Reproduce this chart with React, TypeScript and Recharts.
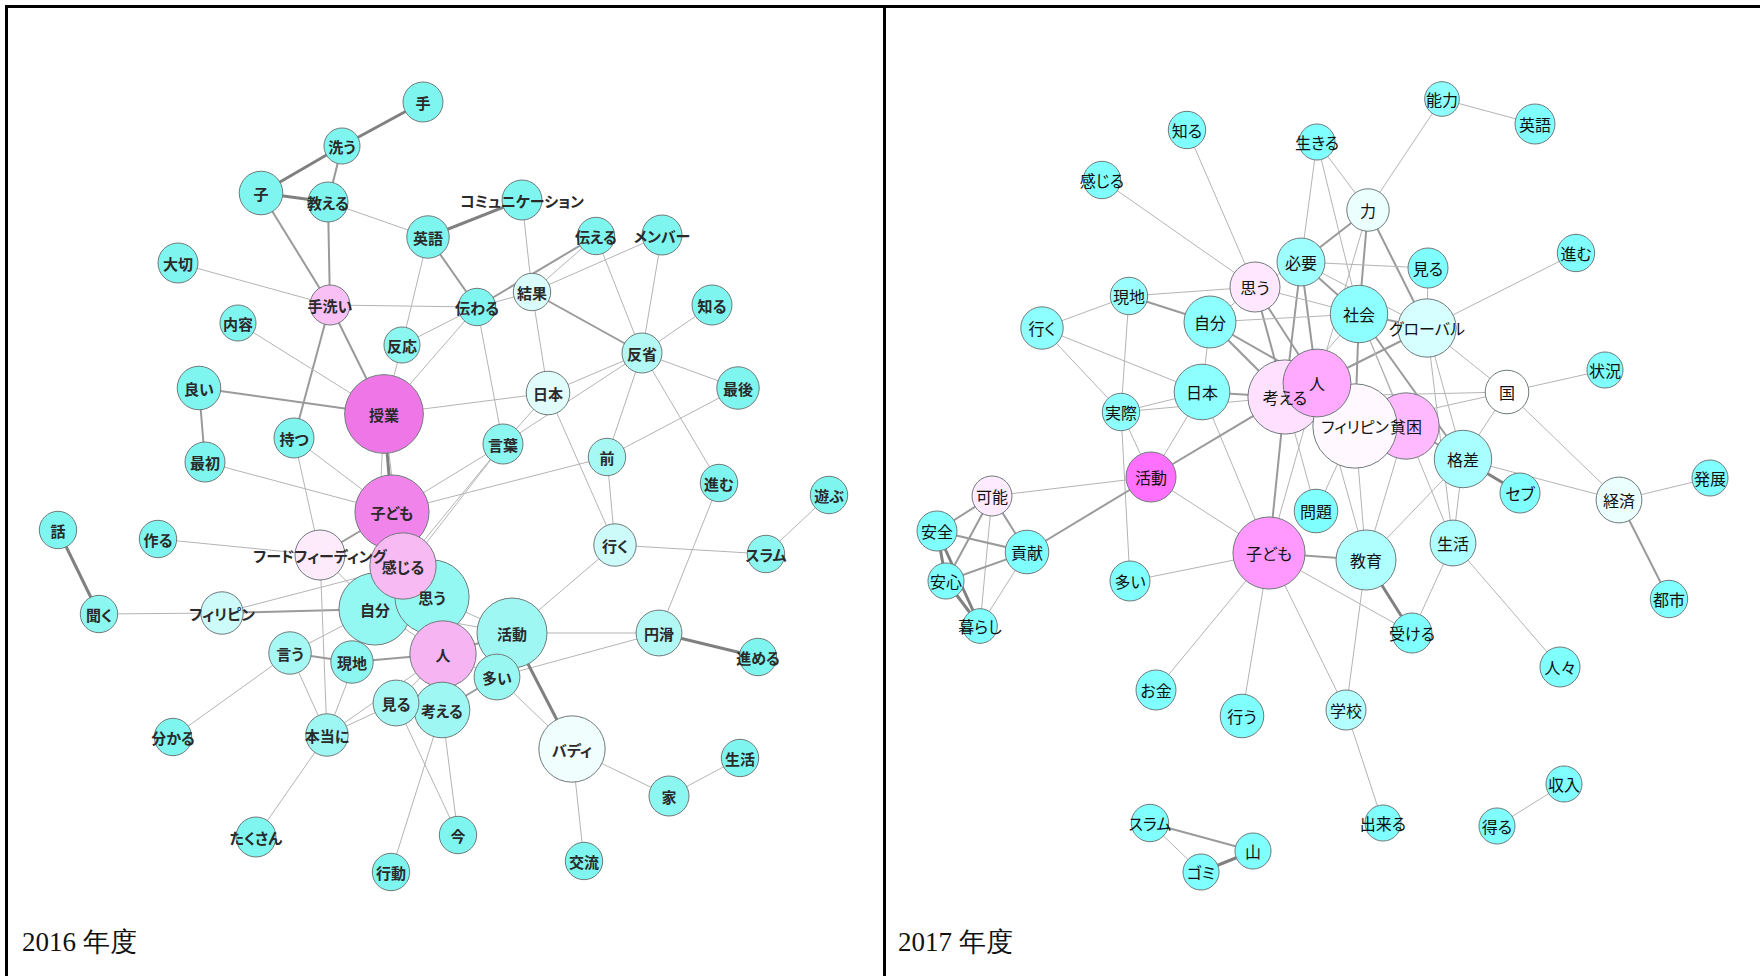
import React from "react";
import { ScatterChart, Scatter, XAxis, YAxis, ReferenceLine } from "recharts";

// node: [word, layoutX, layoutY, frequency, centrality(0 = low, 1 = high)]
type NodeRow = [string, number, number, number, number];
type EdgeRow = [string, string, number];

const nodes2016: NodeRow[] = [
  ["手", 423, 102, 16, 0],
  ["洗う", 342, 146, 13, 0],
  ["子", 261, 193, 19, 0],
  ["教える", 328, 202, 16, 0],
  ["英語", 428, 237, 18, 0],
  ["コミュニケーション", 522, 200, 16, 0],
  ["伝える", 596, 236, 14, 0],
  ["メンバー", 662, 235, 16, 0],
  ["大切", 178, 263, 16, 0],
  ["結果", 532, 292, 14, 0.35],
  ["伝わる", 477, 307, 14, 0],
  ["手洗い", 330, 305, 16, 0.72],
  ["内容", 238, 323, 13, 0],
  ["反応", 402, 345, 13, 0.05],
  ["知る", 712, 305, 16, 0],
  ["反省", 642, 353, 16, 0.2],
  ["良い", 199, 388, 19, 0],
  ["日本", 548, 393, 19, 0.38],
  ["最後", 738, 388, 18, 0],
  ["授業", 384, 414, 62, 0.98],
  ["持つ", 294, 438, 16, 0],
  ["言葉", 503, 444, 16, 0.05],
  ["前", 607, 457, 14, 0.15],
  ["最初", 205, 462, 16, 0],
  ["進む", 719, 483, 14, 0],
  ["遊ぶ", 829, 495, 14, 0],
  ["子ども", 392, 512, 55, 0.93],
  ["話", 58, 530, 14, 0],
  ["作る", 158, 539, 14, 0],
  ["行く", 615, 545, 18, 0.3],
  ["フードフィーディング", 320, 555, 25, 0.57],
  ["スラム", 766, 554, 14, 0.05],
  ["自分", 375, 609, 52, 0.08],
  ["思う", 432, 597, 55, 0.08],
  ["感じる", 403, 566, 44, 0.74],
  ["活動", 512, 633, 49, 0.12],
  ["人", 443, 654, 44, 0.76],
  ["円滑", 659, 633, 21, 0.2],
  ["聞く", 99, 614, 14, 0.05],
  ["フィリピン", 222, 613, 18, 0.3],
  ["言う", 290, 653, 18, 0.15],
  ["現地", 352, 662, 18, 0.05],
  ["進める", 758, 657, 14, 0],
  ["多い", 497, 677, 21, 0.1],
  ["考える", 442, 710, 31, 0.12],
  ["見る", 396, 703, 21, 0.15],
  ["分かる", 173, 737, 14, 0],
  ["本当に", 327, 735, 18, 0.12],
  ["バディ", 572, 749, 44, 0.44],
  ["生活", 740, 758, 14, 0],
  ["家", 669, 796, 16, 0.05],
  ["今", 458, 835, 14, 0],
  ["たくさん", 256, 837, 16, 0],
  ["交流", 584, 861, 14, 0],
  ["行動", 391, 872, 14, 0],
];

// edge: [word, word, co-occurrence strength 1..3]
const edges2016: EdgeRow[] = [
  ["手", "洗う", 3], ["洗う", "子", 3], ["洗う", "教える", 2], ["子", "教える", 3],
  ["子", "手洗い", 2], ["教える", "手洗い", 2], ["教える", "英語", 1],
  ["英語", "コミュニケーション", 3], ["英語", "伝わる", 2], ["英語", "反応", 1],
  ["大切", "手洗い", 1], ["手洗い", "伝わる", 1], ["手洗い", "授業", 2], ["手洗い", "持つ", 2],
  ["内容", "授業", 1], ["良い", "授業", 2], ["良い", "最初", 2], ["最初", "子ども", 1],
  ["持つ", "フードフィーディング", 1], ["持つ", "子ども", 1], ["反応", "授業", 1],
  ["反応", "伝わる", 1], ["伝わる", "伝える", 2], ["伝わる", "授業", 1], ["伝わる", "言葉", 1],
  ["伝わる", "結果", 1], ["結果", "コミュニケーション", 1], ["結果", "伝える", 1],
  ["結果", "メンバー", 1], ["結果", "反省", 2], ["結果", "日本", 1], ["伝える", "反省", 1],
  ["メンバー", "反省", 1], ["知る", "反省", 1], ["反省", "最後", 1], ["反省", "日本", 1],
  ["反省", "前", 1], ["反省", "進む", 1], ["反省", "言葉", 1], ["最後", "前", 1],
  ["日本", "授業", 1], ["日本", "言葉", 1], ["日本", "行く", 1], ["前", "行く", 1],
  ["前", "子ども", 1], ["言葉", "子ども", 1], ["言葉", "感じる", 1], ["言葉", "自分", 1],
  ["授業", "子ども", 3], ["授業", "感じる", 1], ["授業", "自分", 1], ["行く", "スラム", 1],
  ["行く", "活動", 1], ["スラム", "遊ぶ", 1], ["進む", "円滑", 1], ["活動", "円滑", 1],
  ["円滑", "進める", 3], ["円滑", "多い", 1], ["活動", "バディ", 3], ["多い", "バディ", 1],
  ["バディ", "家", 1], ["家", "生活", 1], ["バディ", "交流", 1], ["作る", "フードフィーディング", 1],
  ["話", "聞く", 3], ["聞く", "フィリピン", 1], ["フィリピン", "自分", 2], ["フィリピン", "感じる", 1],
  ["フードフィーディング", "子ども", 2], ["フードフィーディング", "自分", 1],
  ["フードフィーディング", "本当に", 1], ["言う", "現地", 2], ["言う", "自分", 1],
  ["言う", "分かる", 1], ["言う", "本当に", 1], ["現地", "人", 2], ["現地", "自分", 1],
  ["本当に", "見る", 1], ["本当に", "人", 1], ["本当に", "自分", 1], ["たくさん", "本当に", 1],
  ["見る", "人", 1], ["見る", "今", 1], ["考える", "今", 1], ["考える", "行動", 1],
  ["考える", "多い", 2], ["人", "活動", 2], ["人", "多い", 1], ["自分", "活動", 1],
  ["思う", "活動", 1], ["子ども", "感じる", 3], ["感じる", "自分", 1], ["思う", "人", 1],
  ["自分", "人", 1], ["見る", "考える", 1],
];

const nodes2017: NodeRow[] = [
  ["知る", 1187, 130, 14, 0],
  ["生きる", 1317, 142, 13, 0],
  ["能力", 1442, 99, 12, 0.05],
  ["英語", 1535, 124, 16, 0],
  ["感じる", 1102, 180, 14, 0],
  ["力", 1368, 210, 18, 0.42],
  ["進む", 1576, 253, 14, 0],
  ["必要", 1301, 262, 23, 0.12],
  ["見る", 1428, 268, 16, 0],
  ["思う", 1255, 287, 25, 0.58],
  ["現地", 1129, 296, 14, 0.1],
  ["社会", 1359, 314, 33, 0.05],
  ["自分", 1210, 322, 27, 0.05],
  ["グローバル", 1427, 328, 34, 0.34],
  ["行く", 1042, 328, 18, 0.05],
  ["状況", 1605, 370, 13, 0],
  ["日本", 1202, 392, 31, 0.05],
  ["国", 1507, 392, 19, 0.5],
  ["貧困", 1406, 426, 44, 0.74],
  ["考える", 1285, 397, 55, 0.61],
  ["フィリピン", 1355, 426, 71, 0.52],
  ["人", 1317, 383, 46, 0.8],
  ["実際", 1121, 412, 14, 0.05],
  ["格差", 1463, 459, 33, 0.16],
  ["活動", 1151, 477, 25, 1],
  ["可能", 992, 496, 16, 0.57],
  ["セブ", 1520, 493, 16, 0],
  ["経済", 1619, 500, 21, 0.42],
  ["発展", 1710, 478, 13, 0],
  ["問題", 1316, 511, 19, 0],
  ["安全", 937, 531, 16, 0],
  ["生活", 1453, 543, 21, 0.18],
  ["子ども", 1269, 553, 52, 0.86],
  ["貢献", 1027, 552, 19, 0],
  ["教育", 1366, 560, 36, 0.19],
  ["安心", 946, 581, 13, 0],
  ["多い", 1130, 581, 16, 0],
  ["都市", 1669, 599, 14, 0],
  ["暮らし", 980, 626, 12, 0],
  ["受ける", 1412, 633, 16, 0],
  ["人々", 1560, 667, 16, 0],
  ["お金", 1156, 690, 16, 0],
  ["学校", 1346, 710, 16, 0.2],
  ["行う", 1242, 716, 19, 0],
  ["収入", 1564, 784, 13, 0],
  ["スラム", 1150, 823, 14, 0],
  ["出来る", 1383, 823, 13, 0],
  ["得る", 1497, 826, 13, 0],
  ["山", 1253, 851, 13, 0],
  ["ゴミ", 1201, 872, 13, 0],
];

const edges2017: EdgeRow[] = [
  ["知る", "思う", 1], ["感じる", "思う", 1], ["生きる", "必要", 1], ["生きる", "力", 1],
  ["生きる", "社会", 1], ["能力", "英語", 1], ["能力", "力", 1], ["力", "必要", 2],
  ["力", "社会", 2], ["力", "グローバル", 2], ["力", "人", 1], ["必要", "見る", 1],
  ["必要", "社会", 2], ["必要", "思う", 1], ["必要", "考える", 2], ["必要", "人", 2],
  ["必要", "グローバル", 1], ["見る", "グローバル", 1], ["社会", "グローバル", 2],
  ["社会", "フィリピン", 2], ["社会", "格差", 2], ["社会", "考える", 1], ["グローバル", "進む", 1],
  ["グローバル", "人", 2], ["グローバル", "国", 1], ["グローバル", "格差", 1],
  ["グローバル", "生活", 1], ["国", "状況", 1], ["国", "考える", 1], ["国", "フィリピン", 1],
  ["国", "格差", 1], ["国", "経済", 1], ["思う", "現地", 1], ["思う", "自分", 1],
  ["思う", "考える", 2], ["思う", "人", 2], ["思う", "社会", 1], ["現地", "行く", 1],
  ["現地", "自分", 2], ["現地", "実際", 1], ["行く", "日本", 1], ["行く", "実際", 1],
  ["自分", "考える", 2], ["自分", "人", 2], ["自分", "日本", 1], ["自分", "社会", 1],
  ["日本", "考える", 2], ["日本", "実際", 1], ["日本", "活動", 1], ["日本", "子ども", 1],
  ["実際", "考える", 1], ["実際", "活動", 1], ["実際", "多い", 1], ["活動", "考える", 2],
  ["活動", "可能", 1], ["活動", "貢献", 2], ["活動", "子ども", 1], ["可能", "安全", 2],
  ["可能", "安心", 2], ["可能", "暮らし", 1], ["可能", "貢献", 2], ["安全", "安心", 3],
  ["安全", "暮らし", 3], ["安全", "貢献", 2], ["安心", "貢献", 2], ["安心", "暮らし", 3],
  ["貢献", "暮らし", 1], ["多い", "子ども", 1], ["子ども", "考える", 2], ["子ども", "人", 1],
  ["子ども", "教育", 2], ["子ども", "お金", 1], ["子ども", "行う", 1], ["子ども", "学校", 1],
  ["子ども", "受ける", 1], ["問題", "フィリピン", 1], ["問題", "考える", 1],
  ["教育", "フィリピン", 1], ["教育", "貧困", 1], ["教育", "受ける", 3], ["教育", "学校", 1],
  ["教育", "格差", 1], ["教育", "人", 1], ["生活", "格差", 1], ["生活", "受ける", 1],
  ["生活", "人々", 1], ["生活", "社会", 1], ["格差", "セブ", 3], ["格差", "経済", 1],
  ["格差", "貧困", 2], ["経済", "発展", 1], ["経済", "都市", 2], ["学校", "出来る", 1],
  ["収入", "得る", 1], ["スラム", "山", 2], ["スラム", "ゴミ", 1], ["ゴミ", "山", 3],
  ["貧困", "フィリピン", 1], ["貧困", "人", 1], ["貧困", "考える", 1], ["貧困", "社会", 1],
  ["フィリピン", "人", 1], ["フィリピン", "考える", 1],
];

const panelTitles = ["2016 年度", "2017 年度"];

type Palette = { low: string; mid: string; high: string };

function hexToRgb(h: string) {
  const n = parseInt(h.slice(1), 16);
  return [(n >> 16) & 255, (n >> 8) & 255, n & 255];
}

function mix(a: string, b: string, t: number) {
  const ca = hexToRgb(a);
  const cb = hexToRgb(b);
  const c = ca.map((v, i) => Math.round(v + (cb[i] - v) * t));
  return `rgb(${c[0]},${c[1]},${c[2]})`;
}

function nodeColor(c: number, p: Palette) {
  return c <= 0.5 ? mix(p.low, p.mid, c / 0.5) : mix(p.mid, p.high, (c - 0.5) / 0.5);
}

const radius = (freq: number) => 5 * Math.sqrt(freq);

const edgeStyle: Record<number, { stroke: string; width: number }> = {
  1: { stroke: "#b4b4b4", width: 1 },
  2: { stroke: "#9a9a9a", width: 2 },
  3: { stroke: "#808080", width: 3 },
};

function NetworkPanel({
  nodes,
  edges,
  x0,
  width,
  height,
  palette,
  bold,
}: {
  nodes: NodeRow[];
  edges: EdgeRow[];
  x0: number;
  width: number;
  height: number;
  palette: Palette;
  bold: boolean;
}) {
  const data = nodes.map(([word, x, y, freq, cent]) => ({ word, x, y, freq, cent }));
  const byWord: Record<string, { x: number; y: number }> = {};
  data.forEach((d) => (byWord[d.word] = d));

  return (
    <ScatterChart width={width} height={height} margin={{ top: 0, right: 0, bottom: 0, left: 0 }}>
      <XAxis type="number" dataKey="x" domain={[x0, x0 + width]} hide allowDataOverflow />
      <YAxis type="number" dataKey="y" domain={[0, height]} reversed hide allowDataOverflow />
      {edges.map(([a, b, w], i) => (
        <ReferenceLine
          key={i}
          segment={[
            { x: byWord[a].x, y: byWord[a].y },
            { x: byWord[b].x, y: byWord[b].y },
          ]}
          stroke={edgeStyle[w].stroke}
          strokeWidth={edgeStyle[w].width}
          ifOverflow="visible"
        />
      ))}
      <Scatter
        data={data}
        isAnimationActive={false}
        shape={(p: any) => (
          <circle
            cx={p.cx}
            cy={p.cy}
            r={radius(p.payload.freq)}
            fill={nodeColor(p.payload.cent, palette)}
            stroke="#707a7a"
            strokeWidth={1}
          />
        )}
      />
      <Scatter
        data={data}
        isAnimationActive={false}
        shape={(p: any) => (
          <text
            x={p.cx}
            y={p.cy}
            textAnchor="middle"
            dominantBaseline="central"
            fontFamily="'Noto Sans CJK JP', 'Noto Sans', sans-serif"
            fontSize={bold ? 15 : 16}
            fontWeight={bold ? 700 : 400}
            fill={bold ? "#2a2a2a" : "#111"}
            style={{ fontFeatureSettings: '"palt"' }}
          >
            {p.payload.word}
          </text>
        )}
      />
    </ScatterChart>
  );
}

const line = (s: React.CSSProperties): React.CSSProperties => ({
  position: "absolute",
  background: "#000",
  ...s,
});

export default function App() {
  return (
    <div
      style={{
        position: "absolute",
        left: 0,
        top: 0,
        width: 1760,
        height: 976,
        background: "#fff",
        overflow: "hidden",
      }}
    >
      <div style={{ position: "absolute", left: 0, top: 0 }}>
        <NetworkPanel
          nodes={nodes2016}
          edges={edges2016}
          x0={0}
          width={884}
          height={976}
          palette={{ low: "#7ff5ef", mid: "#ffffff", high: "#ee70e6" }}
          bold
        />
      </div>
      <div style={{ position: "absolute", left: 884, top: 0 }}>
        <NetworkPanel
          nodes={nodes2017}
          edges={edges2017}
          x0={884}
          width={876}
          height={976}
          palette={{ low: "#80ffff", mid: "#ffffff", high: "#ff70ff" }}
          bold={false}
        />
      </div>
      <div style={line({ left: 5, top: 5, width: 1755, height: 3 })} />
      <div style={line({ left: 5, top: 5, width: 3, height: 971 })} />
      <div style={line({ left: 883, top: 5, width: 3, height: 971 })} />
      {panelTitles.map((t, i) => (
        <div
          key={t}
          style={{
            position: "absolute",
            left: i === 0 ? 22 : 898,
            top: 927,
            fontFamily: "'Liberation Serif', 'DejaVu Serif', serif",
            fontSize: 27,
            lineHeight: "30px",
            color: "#111",
          }}
        >
          {t}
        </div>
      ))}
    </div>
  );
}
